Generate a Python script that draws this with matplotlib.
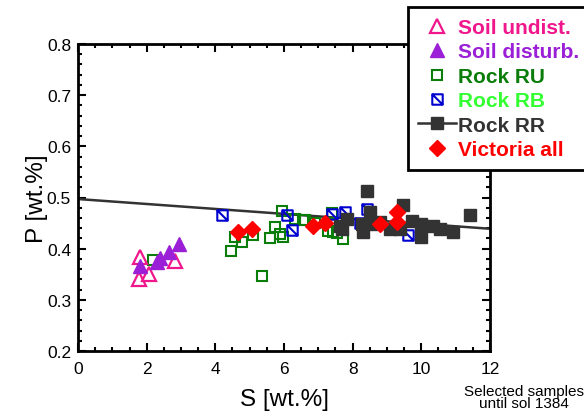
import numpy as np
import matplotlib
matplotlib.use("Agg")
import matplotlib.pyplot as plt
from matplotlib.path import Path
from matplotlib.patches import Rectangle
from matplotlib.ticker import MultipleLocator

plt.rcParams['font.family'] = ['Liberation Sans', 'DejaVu Sans']

# S and P in wt.%
soil_undist_S = [1.81, 1.78, 2.07, 2.83]
soil_undist_P = [0.384, 0.341, 0.351, 0.376]

soil_dist_S = [1.81, 2.30, 2.39, 2.65, 2.94]
soil_dist_P = [0.366, 0.374, 0.382, 0.394, 0.409]

rock_ru_S = [2.17, 4.45, 4.57, 4.77, 5.10, 5.35, 5.59, 5.74, 5.93, 5.88, 5.96,
             6.32, 6.56, 6.61, 7.28, 7.39, 7.53, 7.72, 7.44, 6.90]
rock_ru_P = [0.377, 0.396, 0.423, 0.413, 0.427, 0.347, 0.421, 0.443, 0.474, 0.429, 0.423,
             0.458, 0.457, 0.457, 0.435, 0.470, 0.431, 0.419, 0.432, 0.450]

rock_rb_S = [4.19, 6.10, 6.22, 7.39, 7.78, 8.21, 8.41, 9.62]
rock_rb_P = [0.466, 0.465, 0.437, 0.468, 0.471, 0.450, 0.478, 0.426]

rock_rr_S = [8.41, 9.48, 11.42, 8.50, 7.83, 7.63, 7.68, 8.31, 8.26, 8.55, 9.09,
             9.38, 9.72, 10.00, 10.00, 10.35, 10.54, 10.93, 8.80]
rock_rr_P = [0.512, 0.486, 0.466, 0.471, 0.458, 0.445, 0.439, 0.432, 0.448, 0.448, 0.439,
             0.439, 0.455, 0.448, 0.422, 0.445, 0.439, 0.432, 0.452]

victoria_S = [4.67, 5.06, 6.85, 7.19, 8.80, 9.28, 9.28]
victoria_P = [0.432, 0.439, 0.445, 0.450, 0.448, 0.471, 0.452]

# linear fit of Rock RR shown as line
fit_intercept = 0.497
fit_slope = -0.00484

# square with a diagonal
rb_marker = Path([(-1, -1), (1, -1), (1, 1), (-1, 1), (-1, -1), (-1, 1), (1, -1)],
                 [Path.MOVETO, Path.LINETO, Path.LINETO, Path.LINETO, Path.CLOSEPOLY,
                  Path.MOVETO, Path.LINETO])

fig = plt.figure(figsize=(5.84, 4.14), dpi=100)
ax = fig.add_axes([78 / 584, 62 / 414, 412 / 584, 307 / 414])

xs = np.array([0, 12])
ax.plot(xs, fit_intercept + fit_slope * xs, color='#333333', lw=1.8, zorder=2)

h_su, = ax.plot(soil_undist_S, soil_undist_P, ls='none', marker='^', ms=10,
                mfc='none', mec='#f0178c', mew=1.6, zorder=4)
h_sd, = ax.plot(soil_dist_S, soil_dist_P, ls='none', marker='^', ms=10,
                mfc='#9b1fd6', mec='#9b1fd6', zorder=4)
h_ru, = ax.plot(rock_ru_S, rock_ru_P, ls='none', marker='s', ms=7.5,
                mfc='none', mec='#0a7d0a', mew=1.5, zorder=3)
h_rb, = ax.plot(rock_rb_S, rock_rb_P, ls='none', marker=rb_marker, ms=7.5,
                mfc='none', mec='#0000d0', mew=1.5, zorder=3)
ax.plot(rock_rr_S, rock_rr_P, ls='none', marker='s', ms=8,
        mfc='#333333', mec='#333333', zorder=3)
h_rr, = ax.plot([], [], color='#333333', lw=1.8, marker='s', ms=8,
                mfc='#333333', mec='#333333')
h_vi, = ax.plot(victoria_S, victoria_P, ls='none', marker='D', ms=8,
                mfc='#ff0000', mec='#ff0000', zorder=5)

ax.set_xlim(0, 12)
ax.set_ylim(0.2, 0.8)
ax.xaxis.set_major_locator(MultipleLocator(2))
ax.xaxis.set_minor_locator(MultipleLocator(0.5))
ax.yaxis.set_major_locator(MultipleLocator(0.1))
ax.yaxis.set_minor_locator(MultipleLocator(0.02))
ax.tick_params(which='both', direction='in', top=True, right=True, width=1.5,
               labelsize=12.5, colors='black')
ax.tick_params(which='major', length=6)
ax.tick_params(axis='x', which='major', pad=7)
ax.tick_params(axis='y', which='major', pad=5)
ax.tick_params(which='minor', length=3)
for sp in ax.spines.values():
    sp.set_linewidth(2)

ax.set_xlabel('S [wt.%]', fontsize=17.5, labelpad=9)
ax.set_ylabel('P [wt.%]', fontsize=17.5, labelpad=-1)

# legend box runs off the right edge
box = Rectangle((408 / 584, 1 - 171 / 414), 200 / 584, 163 / 414,
                transform=fig.transFigure, facecolor='white', edgecolor='black',
                lw=2, clip_on=False, zorder=10)
fig.patches.append(box)

labels = ['Soil undist.', 'Soil disturb.', 'Rock RU', 'Rock RB', 'Rock RR', 'Victoria all']
text_colors = ['#f0178c', '#9b1fd6', '#0a7d0a', '#33ff33', '#333333', '#ff0000']
leg = fig.legend([h_su, h_sd, h_ru, h_rb, h_rr, h_vi], labels,
                 loc='upper left', bbox_to_anchor=(418 / 584, 1 - 19 / 414),
                 frameon=False, prop={'weight': 'bold', 'size': 15},
                 handlelength=1.8, handletextpad=0.1, labelspacing=0.26,
                 borderaxespad=0, borderpad=0)
leg.set_zorder(11)
for t, c in zip(leg.get_texts(), text_colors):
    t.set_color(c)

fig.text(524 / 584, 1 - 398 / 414, 'Selected samples\nuntil sol 1384',
         ha='center', va='center', fontsize=11, linespacing=0.9)

fig.savefig('out.png', dpi=100)
